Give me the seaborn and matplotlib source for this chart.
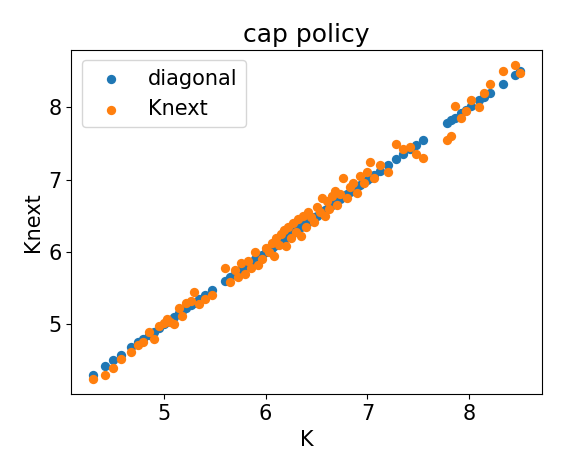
import matplotlib
matplotlib.use("Agg")
import matplotlib.pyplot as plt
import seaborn as sns

K = [4.30, 4.42, 4.50, 4.58, 4.68, 4.75, 4.80, 4.85, 4.90, 4.95, 5.00, 5.03, 5.06, 5.10, 5.15, 5.18,
     5.22, 5.27, 5.30, 5.35, 5.40, 5.47, 5.60, 5.65, 5.70, 5.73, 5.76, 5.80, 5.83, 5.86, 5.90, 5.93,
     5.96, 6.00, 6.03, 6.06, 6.08, 6.10, 6.13, 6.15, 6.18, 6.20, 6.22, 6.25, 6.27, 6.30, 6.32, 6.35,
     6.37, 6.40, 6.42, 6.45, 6.48, 6.50, 6.53, 6.55, 6.58, 6.60, 6.62, 6.65, 6.68, 6.70, 6.73, 6.76,
     6.80, 6.83, 6.86, 6.90, 6.93, 6.97, 7.00, 7.03, 7.06, 7.12, 7.20, 7.28, 7.35, 7.42, 7.48, 7.55,
     7.78, 7.82, 7.86, 7.92, 7.97, 8.02, 8.10, 8.15, 8.20, 8.33, 8.45, 8.50]
Knext = [4.25, 4.30, 4.40, 4.52, 4.62, 4.72, 4.75, 4.90, 4.80, 4.98, 5.02, 5.07, 5.03, 5.00, 5.22, 5.12,
         5.30, 5.32, 5.45, 5.28, 5.35, 5.40, 5.78, 5.58, 5.75, 5.65, 5.85, 5.70, 5.88, 5.78, 6.00, 5.82,
         5.90, 6.05, 6.00, 6.12, 5.95, 6.20, 6.10, 6.25, 6.30, 6.08, 6.35, 6.20, 6.40, 6.28, 6.45, 6.22,
         6.50, 6.35, 6.55, 6.48, 6.42, 6.62, 6.55, 6.75, 6.50, 6.70, 6.60, 6.78, 6.85, 6.65, 6.80, 7.02,
         6.75, 6.90, 6.95, 6.82, 7.05, 6.95, 7.10, 7.25, 7.02, 7.20, 7.10, 7.50, 7.42, 7.45, 7.35, 7.30,
         7.55, 7.60, 8.02, 7.85, 7.95, 8.10, 8.00, 8.20, 8.32, 8.50, 8.58, 8.48]

plt.rcParams["font.size"] = 15
fig, ax = plt.subplots(figsize=(5.64, 4.72), dpi=100)
sns.scatterplot(x=K, y=K, ax=ax, color="#1f77b4", s=45, linewidth=0, label="diagonal")
sns.scatterplot(x=K, y=Knext, ax=ax, color="#ff7f0e", s=45, linewidth=0, label="Knext")
ax.set_title("cap policy", fontsize=18)
ax.set_xlabel("K", fontsize=15)
ax.set_ylabel("Knext", fontsize=15)
ax.tick_params(labelsize=15)
ax.legend(loc="upper left", fontsize=15)
fig.tight_layout()
fig.savefig("out.png")
